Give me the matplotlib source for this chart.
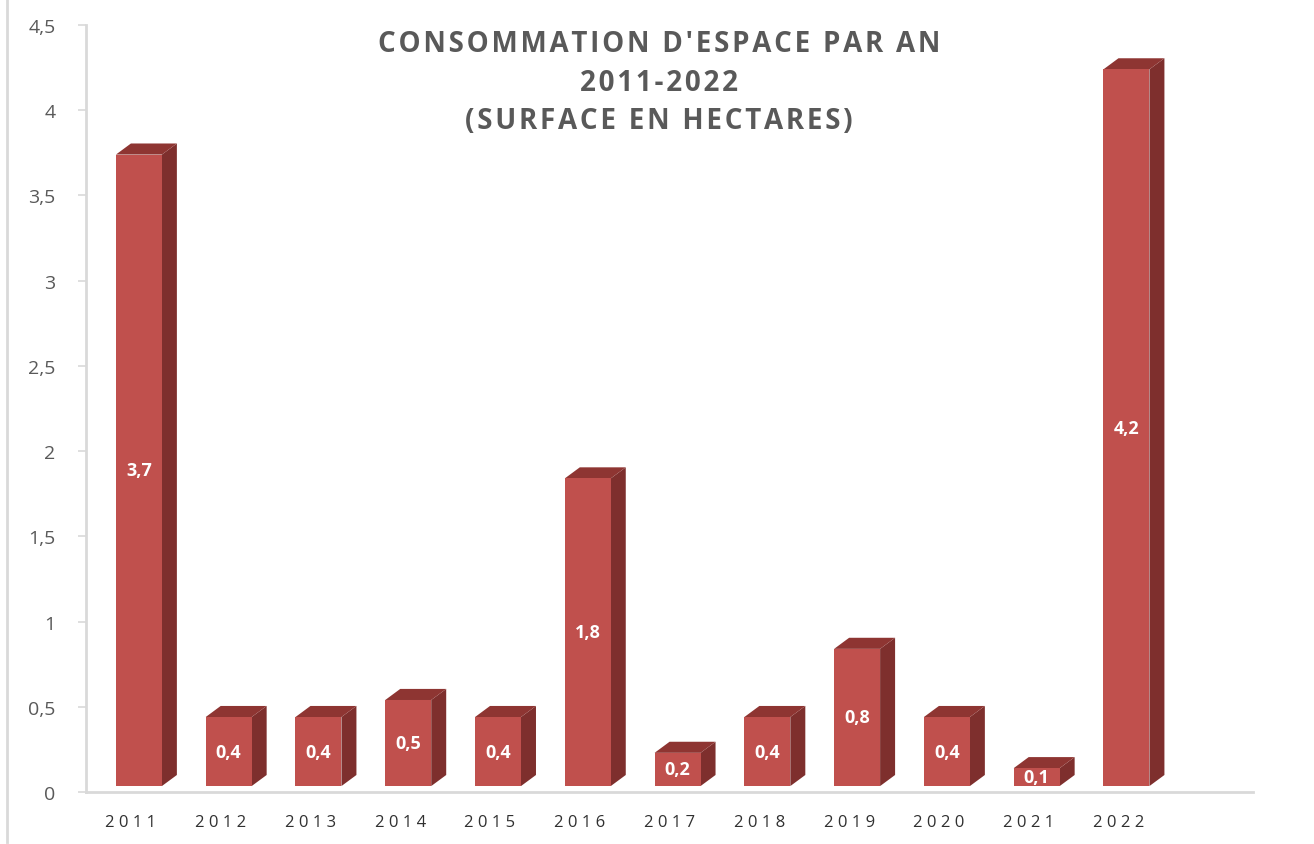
import matplotlib.pyplot as plt
import matplotlib.transforms as mtransforms
from matplotlib.patches import Polygon, Rectangle
from matplotlib.lines import Line2D

plt.rcParams['font.family'] = ['Open Sans', 'DejaVu Sans']

# data
years = ['2011', '2012', '2013', '2014', '2015', '2016',
         '2017', '2018', '2019', '2020', '2021', '2022']
surface = [3.74, 0.44, 0.44, 0.54, 0.44, 1.84, 0.23, 0.44, 0.84, 0.44, 0.14, 4.24]
labels = ['3,7', '0,4', '0,4', '0,5', '0,4', '1,8', '0,2', '0,4', '0,8', '0,4', '0,1', '4,2']
yticks = [0, 0.5, 1, 1.5, 2, 2.5, 3, 3.5, 4, 4.5]
ytick_labels = ['0', '0,5', '1', '1,5', '2', '2,5', '3', '3,5', '4', '4,5']

front = '#C0504D'
side = '#7E2F2D'
top = '#8E3532'
grey = '#D9D9D9'

fig = plt.figure(figsize=(13.14, 8.45), dpi=100)
ax = fig.add_axes([0.0654, 0.0615, 0.8882, 0.9077])

half = 0.256   # half width of front face
dx = 0.167     # depth offset in x
dy = 0.065     # depth offset in y
floor = 0.035

for i, v in enumerate(surface):
    xl, xr = i - half, i + half
    ax.add_patch(Polygon([(xr, floor), (xr + dx, floor + dy), (xr + dx, v + dy), (xr, v)],
                         closed=True, fc=side, ec='none'))
    ax.add_patch(Polygon([(xl, v), (xr, v), (xr + dx, v + dy), (xl + dx, v + dy)],
                         closed=True, fc=top, ec='none'))
    ax.add_patch(Rectangle((xl, floor), 2 * half, v - floor, fc=front, ec='none'))
    ax.text(i, (floor + v) / 2, labels[i], ha='center', va='center',
            color='white', fontsize=13, fontweight='bold')

ax.set_xlim(-0.59, 12.41)
ax.set_ylim(0, 4.5)

ax.set_yticks(yticks)
ax.set_yticklabels(ytick_labels, fontsize=14, color='#595959')
ax.tick_params(axis='y', length=6, width=1.2, color=grey, pad=16)

ax.set_xticks(range(len(years)))
ax.set_xticklabels([' '.join(y) for y in years], fontsize=12, color='#303030')
ax.tick_params(axis='x', length=0, pad=16)
offset = mtransforms.ScaledTranslation(-8 / 100, 0, fig.dpi_scale_trans)
for lab in ax.get_xticklabels():
    lab.set_transform(lab.get_transform() + offset)

for s in ['top', 'right']:
    ax.spines[s].set_visible(False)
for s in ['left', 'bottom']:
    ax.spines[s].set_color(grey)
    ax.spines[s].set_linewidth(2)

title_lines = ["CONSOMMATION D'ESPACE PAR AN", '2011-2022', '(SURFACE EN HECTARES)']
title = '\n'.join('\u200a'.join(line) for line in title_lines)
fig.text(0.5016, 0.964, title, ha='center', va='top', fontsize=20,
         fontweight='bold', color='#595959', linespacing=1.43)

fig.add_artist(Line2D([7 / 1314, 7 / 1314], [0.002, 1], transform=fig.transFigure,
                      color=grey, lw=2))

fig.savefig('out.png', dpi=100)
